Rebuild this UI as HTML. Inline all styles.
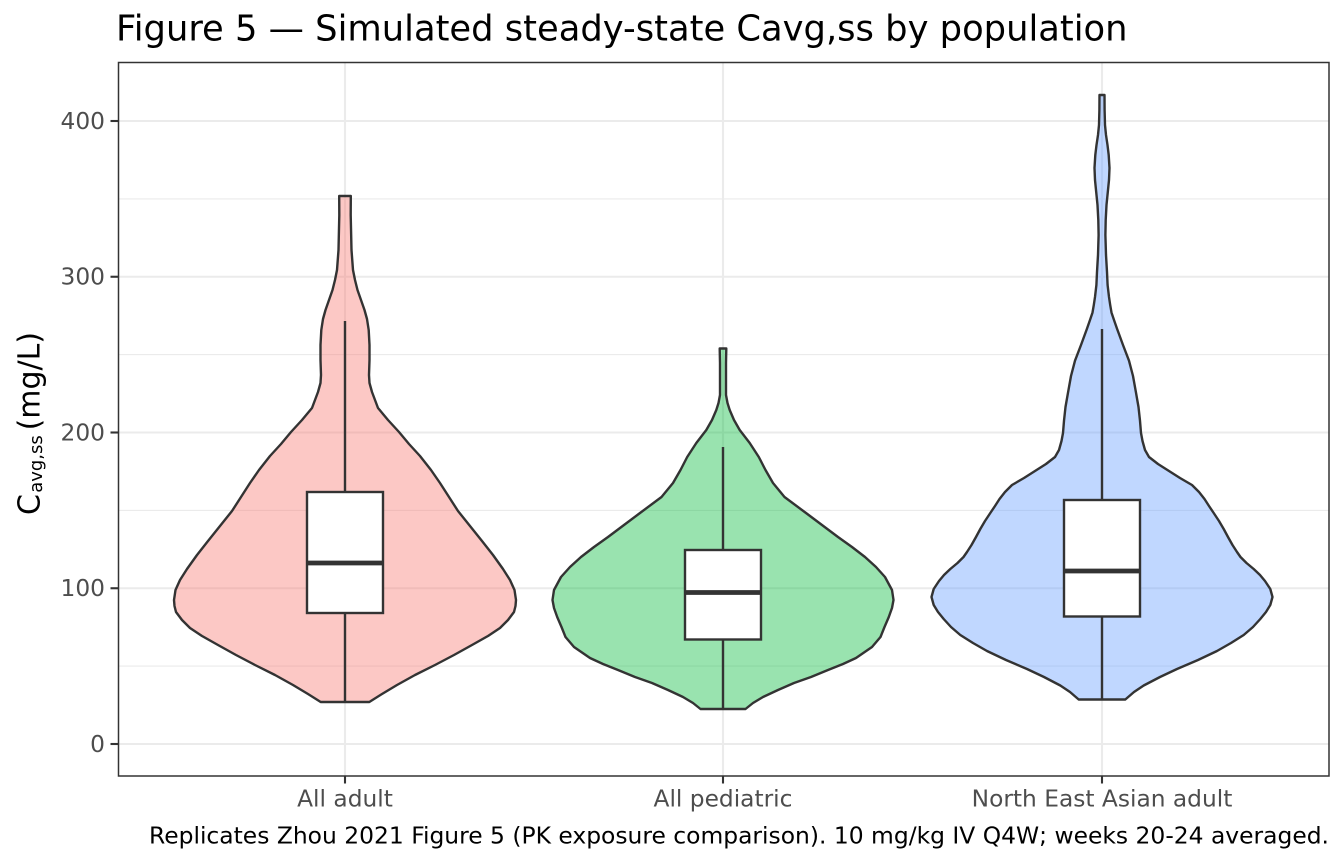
<!DOCTYPE html>
<html>
<head>
<meta charset="utf-8">
<style>
  html, body { margin: 0; padding: 0; background: #ffffff; }
  body { width: 1344px; height: 864px; overflow: hidden; }
  svg { display: block; }
  text { font-family: "DejaVu Sans", "Liberation Sans", sans-serif; }
</style>
</head>
<body>
<svg width="1344" height="864" viewBox="0 0 1344 864" xmlns="http://www.w3.org/2000/svg">
  <rect x="0" y="0" width="1344" height="864" fill="#ffffff"/>

  <!-- Title -->
  <text x="116" y="40.7" font-size="35.3" fill="#000000">Figure 5 — Simulated steady-state Cavg,ss by population</text>

  <!-- Panel background -->
  <rect x="118.5" y="62.5" width="1210.5" height="713.5" fill="#ffffff"/>

  <!-- Minor gridlines -->
  <g stroke="#EBEBEB" stroke-width="1.1" fill="none">
    <line x1="118.5" x2="1329" y1="666.1" y2="666.1"/>
    <line x1="118.5" x2="1329" y1="510.4" y2="510.4"/>
    <line x1="118.5" x2="1329" y1="354.6" y2="354.6"/>
    <line x1="118.5" x2="1329" y1="198.9" y2="198.9"/>
  </g>
  <!-- Major gridlines -->
  <g stroke="#EBEBEB" stroke-width="2.1" fill="none">
    <line x1="118.5" x2="1329" y1="744" y2="744"/>
    <line x1="118.5" x2="1329" y1="588.25" y2="588.25"/>
    <line x1="118.5" x2="1329" y1="432.5" y2="432.5"/>
    <line x1="118.5" x2="1329" y1="276.75" y2="276.75"/>
    <line x1="118.5" x2="1329" y1="121" y2="121"/>
    <line x1="345" x2="345" y1="62.5" y2="776"/>
    <line x1="723" x2="723" y1="62.5" y2="776"/>
    <line x1="1102" x2="1102" y1="62.5" y2="776"/>
  </g>

  <defs>
    <path id="v1" d="M0,196 L5.8,196 L5.7,215 L6.5,250 L8,270 L10,280 L12.5,290 L16,300 L19.5,310 L22,319 L23.7,330 L24.5,345 L24.5,360 L24,375 L24.5,383 L27,392 L30,400 L33,408 L43,420 L54,432 L64,444 L75,456 L86,470 L95,483 L104,497 L113,511 L125,526 L137,541 L148,555 L158,569 L165,580 L169.5,590 L171,600 L170.5,606 L169,612 L163,620 L155,628 L143,636 L127,645 L109,655 L90,665 L70,675 L52,685 L37,694 L24.3,702 L0,702"/>
    <path id="v2" d="M0,348.5 L3.3,348.5 L3,363 L3,395 L4.5,403 L6.7,410 L11,420 L16.7,430 L26.7,443 L35.8,457 L42.5,470 L50,483 L61.5,497 L83,513 L99,525 L115,537 L129,547 L142,557 L153,567 L162,577 L169,590 L170.5,600 L169,608 L165.8,617 L161.5,627 L157.5,637 L149,647 L133,658 L120,664 L105,670 L88,677 L71,683 L55,690 L40,697 L30,703 L22.5,709 L0,709"/>
    <path id="v3" d="M0,95 L2.5,95 L2.6,110 L3,125 L4,135 L5.5,145 L6.7,155 L7.5,168 L7,180 L5.8,192 L4.5,205 L3.7,220 L3.4,235 L4,255 L5,272 L5.6,285 L7,297 L8.2,305 L9.5,312.6 L12,320 L15,328.6 L21,345 L27,360.7 L31,376 L34,392.7 L36.5,407 L38,420.8 L39,433 L40.5,441 L43,450 L47,457 L56,464 L67,471 L78,478 L90,485 L97,492 L102.5,499 L107,506 L111.7,513 L117,521 L121.7,529 L126,537 L130.5,545 L135,552 L138.5,557 L144.5,563 L151.7,569 L158,575 L163,581 L168.3,589 L170.5,597 L168.3,605 L164,612 L158.3,619 L151,627 L141.7,635 L129,643 L115,651 L96,660 L75,669 L58,677 L41.7,685.5 L32,692 L23.3,699.5 L0,699.5"/>
  </defs>

  <!-- Violins -->
  <g stroke="#333333" stroke-width="2.4" stroke-linejoin="round">
    <g transform="translate(345,0)" fill="#F8766D" fill-opacity="0.4">
      <use href="#v1"/>
      <use href="#v1" transform="scale(-1,1)"/>
    </g>
    <g transform="translate(723,0)" fill="#00BA38" fill-opacity="0.4">
      <use href="#v2"/>
      <use href="#v2" transform="scale(-1,1)"/>
    </g>
    <g transform="translate(1102,0)" fill="#619CFF" fill-opacity="0.4">
      <use href="#v3"/>
      <use href="#v3" transform="scale(-1,1)"/>
    </g>
  </g>

  <!-- Boxplots -->
  <g stroke="#333333" stroke-width="2.4" fill="#ffffff">
    <line x1="345" x2="345" y1="321" y2="492"/>
    <line x1="345" x2="345" y1="613" y2="702"/>
    <rect x="307" y="492" width="76" height="121"/>
    <line x1="307" x2="383" y1="563" y2="563" stroke-width="4.8"/>

    <line x1="723" x2="723" y1="447" y2="550"/>
    <line x1="723" x2="723" y1="639.5" y2="709"/>
    <rect x="685" y="550" width="76" height="89.5"/>
    <line x1="685" x2="761" y1="592.5" y2="592.5" stroke-width="4.8"/>

    <line x1="1102" x2="1102" y1="329" y2="500"/>
    <line x1="1102" x2="1102" y1="616.5" y2="700"/>
    <rect x="1064" y="500" width="76" height="116.5"/>
    <line x1="1064" x2="1140" y1="571" y2="571" stroke-width="4.8"/>
  </g>

  <!-- Panel border -->
  <rect x="118.5" y="62.5" width="1210.5" height="713.5" fill="none" stroke="#333333" stroke-width="1.5"/>

  <!-- Ticks -->
  <g stroke="#333333" stroke-width="2.1">
    <line x1="110.5" x2="118.5" y1="744" y2="744"/>
    <line x1="110.5" x2="118.5" y1="588.25" y2="588.25"/>
    <line x1="110.5" x2="118.5" y1="432.5" y2="432.5"/>
    <line x1="110.5" x2="118.5" y1="276.75" y2="276.75"/>
    <line x1="110.5" x2="118.5" y1="121" y2="121"/>
    <line x1="345" x2="345" y1="776" y2="783.5"/>
    <line x1="723" x2="723" y1="776" y2="783.5"/>
    <line x1="1102" x2="1102" y1="776" y2="783.5"/>
  </g>

  <!-- Y tick labels -->
  <g font-size="23.3" fill="#4D4D4D" text-anchor="end">
    <text x="105" y="751.8">0</text>
    <text x="105" y="596">100</text>
    <text x="105" y="440.3">200</text>
    <text x="105" y="284.5">300</text>
    <text x="105" y="128.8">400</text>
  </g>

  <!-- X tick labels -->
  <g font-size="23.3" fill="#4D4D4D" text-anchor="middle">
    <text x="345" y="806.7">All adult</text>
    <text x="723" y="806.7">All pediatric</text>
    <text x="1102" y="806.7">North East Asian adult</text>
  </g>

  <!-- Y axis title -->
  <g transform="translate(39.5,513.3) rotate(-90)" fill="#000000">
    <text x="-1.7" y="0" font-size="30">C</text>
    <text x="20.5" y="2.5" font-size="18">avg,ss</text>
    <text x="82.9" y="0" font-size="30">(mg/L)</text>
  </g>

  <!-- Caption -->
  <text x="1329" y="843.3" font-size="23.4" fill="#000000" text-anchor="end">Replicates Zhou 2021 Figure 5 (PK exposure comparison). 10 mg/kg IV Q4W; weeks 20-24 averaged.</text>
</svg>
</body>
</html>
